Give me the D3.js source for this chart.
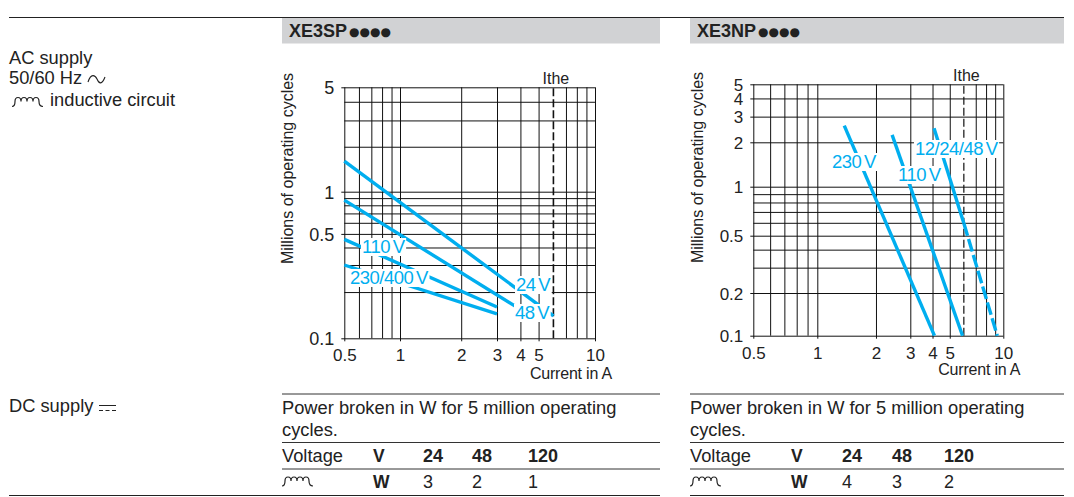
<!DOCTYPE html>
<html>
<head>
<meta charset="utf-8">
<script src="https://cdn.jsdelivr.net/npm/d3@7"></script>
<style>
    html, body { margin: 0; padding: 0; background: #fff; }
    svg { display: block; }
    text { font-family: "Liberation Sans", Arial, sans-serif; fill: #222; }
    .series { fill: none; stroke: #00aeef; stroke-width: 3.4; }
    .grid line { stroke: #111; stroke-width: 1; }
    .curve-label { fill: #00aeef; font-size: 18.5px; letter-spacing: -0.5px; word-spacing: -2px; }
</style>
</head>
<body>
<svg id="page" width="1074" height="497"></svg>
<script>
// Grid values, both charts share them
const currentGrid = [0.5, 0.6, 0.7, 0.8, 0.9, 1, 2, 3, 4, 5, 7, 8, 9, 10];
const currentLabels = [0.5, 1, 2, 3, 4, 5, 10];
const cyclesGrid = [0.1, 0.2, 0.3, 0.4, 0.5, 0.6, 0.7, 0.8, 0.9, 1, 2, 3, 4, 5];
const ithe = 6;

// XE3SP curves: [current, cycles] ends
const spCycleLabels = [0.1, 0.5, 1, 5];
const sp24 = [[0.5, 1.6], [6, 0.14]];
const sp48 = [[0.5, 0.87], [3.75, 0.162]];
const sp110 = [[0.5, 0.457], [3, 0.16]];
const sp230 = [[0.5, 0.3], [3, 0.144]];
const spLabels = ['110 V', '230/400 V', '24 V', '48 V'];

// XE3NP curves
const npCycleLabels = [0.1, 0.2, 0.5, 1, 2, 3, 4, 5];
const np230 = [[1.375, 2.6], [4.1, 0.1]];
const np110 = [[2.42, 2.25], [5.9, 0.1]];
const np48 = [[4.08, 2.5], [6, 0.596]];
const np48Dashed = [[6, 0.596], [9.25, 0.1]];
const npLabels = ['230 V', '110 V', '12/24/48 V'];

// Power table
const voltages = [24, 48, 120];
const spPower = [3, 2, 1];
const npPower = [4, 3, 2];

const svg = d3.select('#page');

const drawChart = function (opts) {
    const x = d3.scaleLog().domain([0.5, 1, 3, 10]).range(opts.xRange);
    const y = d3.scaleLog().domain(opts.yKnots).range(opts.yRange);
    const left = opts.xRange[0];
    const right = opts.xRange[3];
    const bottom = opts.yRange[0];
    const top = opts.yRange[opts.yRange.length - 1];

    const chart = svg.append('g').attr('class', 'chart');

    // X axis, ticks stretched into grid lines
    const xAxis = chart.append('g')
        .attr('class', 'grid')
        .attr('transform', `translate(0,${bottom})`)
        .call(d3.axisBottom(x)
            .tickValues(currentGrid)
            .tickSizeInner(-(bottom - top))
            .tickSizeOuter(0)
            .tickFormat(d => currentLabels.includes(d) ? d : ''));
    xAxis.select('.domain').remove();
    xAxis.selectAll('line').attr('y2', -(bottom - top)).attr('y1', d => currentLabels.includes(d) ? 3 : 0);
    xAxis.selectAll('text')
        .attr('y', opts.xLabelDy)
        .attr('dy', 0)
        .attr('font-size', 17)
        .attr('font-family', null);

    // Y axis
    const yAxis = chart.append('g')
        .attr('class', 'grid')
        .attr('transform', `translate(${left},0)`)
        .call(d3.axisLeft(y)
            .tickValues(cyclesGrid)
            .tickSizeInner(-(right - left))
            .tickSizeOuter(0)
            .tickFormat(d => opts.yLabels.includes(d) ? d : ''));
    yAxis.select('.domain').remove();
    yAxis.selectAll('line').attr('x2', right - left).attr('x1', d => opts.yLabels.includes(d) ? -3 : 0);
    yAxis.selectAll('text')
        .attr('x', -10)
        .attr('dy', '0.36em')
        .attr('font-size', opts.yFont)
        .attr('font-family', null);

    // Ithe limit
    chart.append('line')
        .attr('x1', x(ithe))
        .attr('x2', x(ithe))
        .attr('y1', bottom)
        .attr('y2', top)
        .attr('stroke', '#111')
        .attr('stroke-width', opts.itheWidth)
        .attr('stroke-dasharray', '8,3');

    chart.append('text')
        .attr('x', x(ithe) + 2.5)
        .attr('y', top - 3)
        .attr('text-anchor', 'middle')
        .attr('font-size', 16)
        .text('Ithe');

    // Curves
    const line = d3.line().x(d => x(d[0])).y(d => y(d[1]));
    chart.selectAll('.series')
        .data(opts.curves)
        .join('path')
        .attr('class', 'series')
        .attr('d', line);

    if (opts.dashed) {
        chart.append('path')
            .attr('class', 'series')
            .attr('stroke-dasharray', '13,3.5')
            .attr('d', line(opts.dashed));
    }

    // Curve labels on a white patch
    opts.labels.forEach((name, i) => {
        const label = chart.append('text')
            .attr('class', 'curve-label')
            .attr('x', opts.labelPos[i][0])
            .attr('y', opts.labelPos[i][1])
            .text(name);
        const box = label.node().getBBox();
        chart.insert('rect', 'text.curve-label')
            .attr('x', box.x - 1)
            .attr('y', box.y + 2)
            .attr('width', box.width + 1.5)
            .attr('height', box.height - 3)
            .attr('fill', '#fff');
    });

    // Axis titles
    chart.append('text')
        .attr('transform', `translate(${opts.titleX},${opts.titleY}) rotate(-90)`)
        .attr('text-anchor', 'middle')
        .attr('font-size', 16)
        .text('Millions of operating cycles');

    chart.append('text')
        .attr('x', right + 17)
        .attr('y', opts.currentY)
        .attr('text-anchor', 'end')
        .attr('font-size', 16)
        .attr('letter-spacing', -0.2)
        .text('Current in A');
};

const rule = (x1, x2, y, color) => svg.append('line')
    .attr('x1', x1).attr('x2', x2).attr('y1', y).attr('y2', y)
    .attr('stroke', color || '#333').attr('stroke-width', 1);

const label = (x, y, str, size, bold) => svg.append('text')
    .attr('x', x).attr('y', y)
    .attr('font-size', size || 18.3)
    .attr('font-weight', bold ? 'bold' : null)
    .text(str);

// Inductor symbol, four small humps with a tail on each side
const inductor = (x, y) => svg.append('path')
    .attr('fill', 'none')
    .attr('stroke', '#222')
    .attr('stroke-width', 1.2)
    .attr('d', `M${x} ${y} q3 0 3 -5 a3 4 0 0 1 6 0 a3 4 0 0 1 6 0 a3 4 0 0 1 6 0 a3 4 0 0 1 6 0 q0 5 4 5`);

// Header bands
[[282, 378, 'XE3SP', 289], [690, 374, 'XE3NP', 697]].forEach(d => {
    svg.append('rect')
        .attr('x', d[0]).attr('y', 18)
        .attr('width', d[1]).attr('height', 25.5)
        .attr('fill', '#d1d2d4');
    const head = label(d[3], 36.5, d[2], 18, true);
    head.append('tspan')
        .attr('font-size', 12)
        .attr('dx', 2)
        .attr('dy', -0.5)
        .attr('font-family', 'DejaVu Sans')
        .text('●●●●');
});
rule(9, 1064, 17.5, '#222');

// Left column
label(9, 64, 'AC supply');
label(9, 84, '50/60 Hz');
label(50, 106, 'inductive circuit');
label(9, 412, 'DC supply');
inductor(12, 106.5);
svg.append('path')
    .attr('fill', 'none').attr('stroke', '#222').attr('stroke-width', 1.1)
    .attr('d', 'M88 82 C91 73 95 75 97 79 C99 84 102 85 105 77');
svg.append('line').attr('x1', 99).attr('x2', 116).attr('y1', 405.5).attr('y2', 405.5).attr('stroke', '#222');
svg.append('line').attr('x1', 99).attr('x2', 116).attr('y1', 410.5).attr('y2', 410.5)
    .attr('stroke', '#222').attr('stroke-dasharray', '4,2.5');

drawChart({
    xRange: [344.3, 400, 497, 595],
    yKnots: [0.1, 0.3, 1, 5],
    yRange: [338.3, 265, 191.7, 87.3],
    yLabels: spCycleLabels,
    curves: [sp24, sp48, sp110, sp230],
    labels: spLabels,
    labelPos: [[362, 253], [350, 284], [516, 291], [515, 319]],
    xLabelDy: 23,
    yFont: 18,
    itheWidth: 1.6,
    titleX: 293,
    titleY: 168.5,
    currentY: 379
});

drawChart({
    xRange: [753.3, 817.3, 910.3, 1003.3],
    yKnots: [0.1, 0.2, 0.5, 1, 2, 5],
    yRange: [335.7, 293, 235.7, 186.7, 142.3, 84.3],
    yLabels: npCycleLabels,
    curves: [np230, np110, np48],
    dashed: np48Dashed,
    labels: npLabels,
    labelPos: [[832, 168], [898, 181], [915, 155]],
    xLabelDy: 23,
    yFont: 17,
    itheWidth: 1.2,
    titleX: 703,
    titleY: 167.5,
    currentY: 375
});

// Power tables
const drawTable = function (x0, x1, cols, power) {
    rule(x0, x1, 394);
    rule(x0, x1, 442.5);
    rule(x0, x1, 469);
    label(x0, 414, 'Power broken in W for 5 million operating');
    label(x0, 436, 'cycles.');
    label(x0, 462, 'Voltage');
    label(cols[0], 462, 'V', 17.5, true);
    label(cols[0], 488, 'W', 17.5, true);
    voltages.forEach((v, i) => {
        label(cols[i + 1], 462, v, 18, true);
        label(cols[i + 1], 488, power[i], 18);
    });
    inductor(x0, 486);
};

drawTable(282, 660, [373, 423, 472, 528], spPower);
drawTable(690, 1064, [791, 842, 892, 944], npPower);
rule(9, 660, 495.5, '#222');
rule(690, 1064, 495.5, '#222');
</script>
</body>
</html>
